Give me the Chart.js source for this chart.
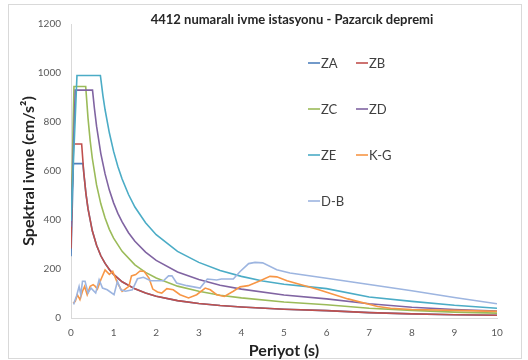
<!DOCTYPE html>
<html>
<head>
<meta charset="utf-8">
<script src="https://cdn.jsdelivr.net/npm/chart.js@4.4.1/dist/chart.umd.min.js"></script>
<style>
  body { margin: 0; background: #fff; }
  #frame { position: absolute; left: 8px; top: 4px; width: 512px; height: 353px; border: 1px solid #d9d9d9; }
  #spectra { position: absolute; left: 0; top: 0; }
</style>
</head>
<body>
<div id="frame"></div>
<canvas id="spectra" width="528" height="360"></canvas>
<script>
// Periyot (s) and spektral ivme (cm/s2)
const zaT = [0, 0.056, 0.28, 0.3, 0.35, 0.4, 0.5, 0.6, 0.7, 0.8, 0.9, 1.0, 1.2, 1.5, 1.75, 2, 2.5, 3, 3.5, 4, 5, 6, 7, 8, 9, 10];
const zaV = [252, 630, 630, 593, 509, 445, 356, 297, 254, 223, 198, 178, 148, 119, 102, 89, 71, 59, 51, 45, 36, 30, 22, 17, 13, 11];

const zbT = [0, 0.05, 0.25, 0.3, 0.35, 0.4, 0.5, 0.6, 0.7, 0.8, 0.9, 1.0, 1.2, 1.5, 1.75, 2, 2.5, 3, 3.5, 4, 5, 6, 7, 8, 9, 10];
const zbV = [284, 710, 710, 593, 509, 445, 356, 297, 254, 223, 198, 178, 148, 119, 102, 89, 71, 59, 51, 45, 36, 30, 22, 17, 13, 11];

const zcT = [0, 0.07, 0.345, 0.4, 0.45, 0.5, 0.6, 0.7, 0.8, 0.9, 1.0, 1.2, 1.5, 1.75, 2, 2.5, 3, 3.5, 4, 5, 6, 7, 8, 9, 10];
const zcV = [378, 945, 945, 815, 724, 652, 543, 466, 408, 362, 326, 272, 217, 186, 163, 130, 109, 93, 82, 65, 54, 40, 31, 24, 20];

const zdT = [0, 0.1, 0.505, 0.55, 0.6, 0.7, 0.8, 0.9, 1.0, 1.1, 1.2, 1.35, 1.5, 1.75, 2, 2.5, 3, 3.5, 4, 5, 6, 7, 8, 9, 10];
const zdV = [372, 930, 930, 855, 783, 671, 588, 522, 470, 427, 392, 348, 313, 269, 235, 188, 157, 134, 118, 94, 78, 58, 44, 35, 28];

const zeT = [0, 0.14, 0.69, 0.75, 0.8, 0.9, 1.0, 1.1, 1.2, 1.35, 1.5, 1.75, 2, 2.5, 3, 3.5, 4, 4.5, 5, 5.5, 6, 7, 8, 9, 10];
const zeV = [396, 990, 990, 907, 850, 756, 680, 618, 567, 504, 453, 389, 340, 272, 227, 194, 170, 151, 138, 129, 120, 86, 68, 52, 40];

const kgT = [0.05, 0.1, 0.15, 0.21, 0.27, 0.32, 0.38, 0.45, 0.52, 0.57, 0.62, 0.7, 0.8, 0.9, 0.98, 1.09, 1.2, 1.36, 1.42, 1.52, 1.62, 1.72, 1.83, 1.92, 2.03, 2.13, 2.25, 2.4, 2.56, 2.76, 2.95, 3.15, 3.27, 3.42, 3.6, 3.81, 3.97, 4.16, 4.44, 4.67, 4.83, 5.07, 5.8, 6.5, 7.2, 7.5, 8, 9, 10];
const kgV = [60, 68, 95, 75, 109, 129, 95, 129, 136, 129, 118, 156, 196, 178, 190, 143, 109, 129, 172, 177, 192, 190, 163, 118, 106, 102, 120, 115, 95, 82, 95, 122, 115, 95, 88, 109, 127, 132, 152, 170, 168, 152, 116, 78, 47, 40, 35, 31, 27];

const dbT = [0.05, 0.07, 0.13, 0.19, 0.23, 0.27, 0.33, 0.4, 0.47, 0.58, 0.66, 0.74, 0.85, 1.01, 1.09, 1.17, 1.28, 1.44, 1.56, 1.7, 1.87, 2.17, 2.29, 2.37, 2.48, 2.72, 3.03, 3.2, 3.42, 3.53, 3.81, 3.97, 4.17, 4.32, 4.5, 4.83, 5.14, 6, 7, 8, 9, 10];
const dbV = [58, 61, 90, 129, 95, 150, 150, 102, 122, 102, 156, 122, 115, 95, 150, 115, 109, 115, 160, 166, 152, 152, 172, 172, 143, 132, 122, 159, 155, 159, 159, 190, 222, 227, 225, 197, 184, 162, 137, 111, 84, 58];

const seriesNames = ['ZA', 'ZB', 'ZC', 'ZD', 'ZE', 'K-G', 'D-B'];
const seriesColors = ['#4F81BD', '#C0504D', '#9BBB59', '#8064A2', '#4BACC6', '#F79646', '#9DB5E0'];
const periods = [zaT, zbT, zcT, zdT, zeT, kgT, dbT];
const values = [zaV, zbV, zcV, zdV, zeV, kgV, dbV];

const xTicks = [0, 1, 2, 3, 4, 5, 6, 7, 8, 9, 10];
const yTicks = [0, 200, 400, 600, 800, 1000, 1200];

function pairs(ts, vs) {
  return ts.map((t, i) => ({ x: t, y: vs[i] }));
}

const datasets = seriesNames.map((name, i) => ({
  label: name,
  data: pairs(periods[i], values[i]),
  borderColor: seriesColors[i],
  borderWidth: 1.6,
  pointRadius: 0,
  tension: 0,
  fill: false,
  order: seriesNames.length - i
}));

// title and in-plot legend, placed like the Excel original
const legendSpots = [[308, 63], [356, 63], [308, 109], [356, 109], [308, 155], [356, 155], [308, 201]];

const decorPlugin = {
  id: 'decor',
  afterDraw(chart) {
    const c = chart.ctx;
    c.save();
    c.fillStyle = '#262626';
    c.font = 'bold 13px Lato';
    c.textAlign = 'center';
    c.textBaseline = 'middle';
    c.fillText('4412 numaralı ivme istasyonu - Pazarcık depremi', 292, 20);

    c.font = '13px Lato';
    c.textAlign = 'left';
    seriesNames.forEach((name, i) => {
      const [lx, ly] = legendSpots[i];
      c.strokeStyle = seriesColors[i];
      c.lineWidth = 1.6;
      c.beginPath();
      c.moveTo(lx, ly);
      c.lineTo(lx + 12, ly);
      c.stroke();
      c.fillStyle = '#404040';
      c.fillText(name, lx + 13, ly + 1);
    });
    c.restore();
  }
};

Chart.defaults.font.family = 'Lato';

new Chart(document.getElementById('spectra'), {
  type: 'line',
  data: { datasets: datasets },
  options: {
    responsive: false,
    animation: false,
    layout: { padding: { top: 24, right: 31, left: 0, bottom: 0 } },
    plugins: {
      legend: { display: false },
      tooltip: { enabled: false }
    },
    scales: {
      x: {
        type: 'linear',
        min: 0,
        max: 10,
        afterFit: s => { s.height = 42; },
        afterBuildTicks: s => { s.ticks = xTicks.map(v => ({ value: v })); },
        grid: { display: false, drawTicks: false },
        border: { display: true, color: '#d9d9d9', width: 1 },
        ticks: { color: '#595959', font: { size: 10 }, padding: 9, maxRotation: 0, callback: v => String(v) },
        title: {
          display: true,
          text: 'Periyot (s)',
          color: '#222',
          font: { size: 16, weight: 'bold' },
          padding: { top: 3, bottom: 0 }
        }
      },
      y: {
        min: 0,
        max: 1200,
        afterFit: s => { s.width = 71; },
        afterBuildTicks: s => { s.ticks = yTicks.map(v => ({ value: v })); },
        grid: { display: false, drawTicks: false },
        border: { display: true, color: '#d9d9d9', width: 1 },
        ticks: { color: '#595959', font: { size: 10 }, padding: 10, callback: v => String(v) },
        title: {
          display: true,
          text: 'Spektral ivme (cm/s²)',
          color: '#222',
          font: { size: 16, weight: 'bold' },
          padding: { top: 19, bottom: 0 }
        }
      }
    }
  },
  plugins: [decorPlugin]
});
</script>
</body>
</html>
